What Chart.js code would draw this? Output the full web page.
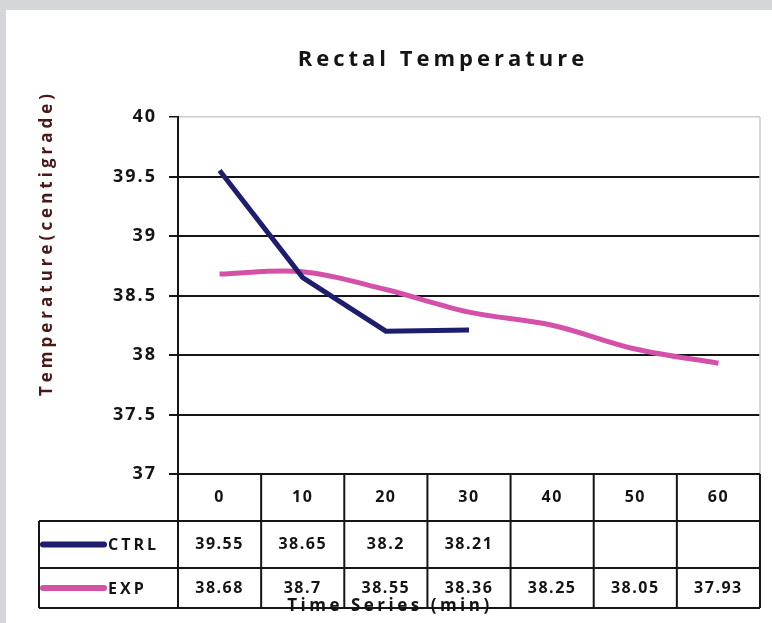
<!DOCTYPE html>
<html>
<head>
<meta charset="utf-8">
<title>Rectal Temperature</title>
<script src="https://cdn.jsdelivr.net/npm/chart.js@4.4.0/dist/chart.umd.min.js"></script>
<style>
  html, body { margin: 0; padding: 0; background: #d5d6d9; }
  #wrap { position: absolute; left: 6px; top: 10px; width: 766px; height: 613px; background: #fff; }
</style>
</head>
<body>
<div id="wrap"><canvas id="tempChart" width="766" height="613"></canvas></div>
<script>
// Chart data
const timeLabels = ['0', '10', '20', '30', '40', '50', '60'];
const ctrlValues = [39.55, 38.65, 38.2, 38.21, null, null, null];
const expValues = [38.68, 38.7, 38.55, 38.36, 38.25, 38.05, 37.93];
const seriesNames = ['CTRL', 'EXP'];
const yTickValues = [37, 37.5, 38, 38.5, 39, 39.5, 40];

// Colours
const colors = {
  ctrl: '#1f1d6e',
  exp: '#d451a9',
  text: '#141414',
  grid: '#151515',
  frame: '#c9ccd3',
  axisTitle: '#4a1818'
};

const FONT = "'Open Sans', 'DejaVu Sans', sans-serif";

// Text + data table drawn under the plot
const dataTablePlugin = {
  id: 'dataTable',
  beforeDraw(chart) {
    chart.ctx.letterSpacing = '2px';
  },
  afterDraw(chart) {
    const ctx = chart.ctx;
    const area = chart.chartArea;
    const xScale = chart.scales.x;
    const colW = (area.right - area.left) / timeLabels.length;
    const tableLeft = 33;
    const rowLines = [area.bottom, 511, 558, 598];

    ctx.save();

    // plot frame (right, light grey)
    ctx.strokeStyle = colors.frame;
    ctx.lineWidth = 1.5;
    ctx.beginPath();
    ctx.moveTo(area.right, area.top);
    ctx.lineTo(area.right, area.bottom);
    ctx.stroke();

    // table grid
    ctx.strokeStyle = colors.grid;
    ctx.lineWidth = 2;
    ctx.beginPath();
    ctx.moveTo(area.left, rowLines[0]);
    ctx.lineTo(area.right, rowLines[0]);
    for (let r = 1; r < rowLines.length; r++) {
      ctx.moveTo(tableLeft, rowLines[r]);
      ctx.lineTo(area.right, rowLines[r]);
    }
    for (let i = 0; i <= timeLabels.length; i++) {
      const xPos = area.left + i * colW;
      ctx.moveTo(xPos, rowLines[0]);
      ctx.lineTo(xPos, rowLines[3]);
    }
    ctx.moveTo(tableLeft, rowLines[1]);
    ctx.lineTo(tableLeft, rowLines[3]);
    ctx.stroke();

    // table text
    ctx.fillStyle = colors.text;
    ctx.font = 'bold 16px ' + FONT;
    ctx.letterSpacing = '1.5px';
    ctx.textAlign = 'center';
    ctx.textBaseline = 'middle';
    const rowMid = r => (rowLines[r] + rowLines[r + 1]) / 2;
    timeLabels.forEach((label, i) => {
      const cx = xScale.getPixelForValue(i);
      ctx.fillText(label, cx, rowMid(0));
      if (ctrlValues[i] !== null) ctx.fillText(String(ctrlValues[i]), cx, rowMid(1));
      if (expValues[i] !== null) ctx.fillText(String(expValues[i]), cx, rowMid(2));
    });

    // legend keys in table
    const keyColors = [colors.ctrl, colors.exp];
    seriesNames.forEach((name, s) => {
      const y = rowMid(s + 1);
      ctx.strokeStyle = keyColors[s];
      ctx.lineWidth = 6;
      ctx.lineCap = 'round';
      ctx.beginPath();
      ctx.moveTo(37, y);
      ctx.lineTo(98, y);
      ctx.stroke();
      ctx.textAlign = 'left';
      ctx.fillStyle = colors.text;
      ctx.letterSpacing = '3px';
      ctx.fillText(name, 102, y + 1);
    });

    // chart title
    ctx.textAlign = 'center';
    ctx.font = 'bold 22px ' + FONT;
    ctx.letterSpacing = '4px';
    ctx.fillText('Rectal Temperature', 437, 50);

    // x axis title
    ctx.font = 'bold 17px ' + FONT;
    ctx.letterSpacing = '3.5px';
    ctx.fillText('Time Series (min)', 384, 596);

    // y axis title
    ctx.save();
    ctx.translate(41, 233);
    ctx.rotate(-Math.PI / 2);
    ctx.fillStyle = colors.axisTitle;
    ctx.font = 'bold 17px ' + FONT;
    ctx.letterSpacing = '4px';
    ctx.fillText('Temperature(centigrade)', 0, 0);
    ctx.restore();

    ctx.restore();
  }
};

const ctx = document.getElementById('tempChart').getContext('2d');

const tempChart = new Chart(ctx, {
  type: 'line',
  data: {
    labels: timeLabels,
    datasets: [
      {
        label: seriesNames[0],
        data: ctrlValues,
        borderColor: colors.ctrl,
        borderWidth: 5,
        pointRadius: 0,
        tension: 0,
        spanGaps: false
      },
      {
        label: seriesNames[1],
        data: expValues,
        borderColor: colors.exp,
        borderWidth: 5,
        pointRadius: 0,
        tension: 0.35
      }
    ]
  },
  options: {
    responsive: false,
    animation: false,
    layout: {
      padding: { left: 0, right: 12, top: 107, bottom: 149 }
    },
    scales: {
      x: {
        display: false,
        offset: true
      },
      y: {
        min: 37,
        max: 40,
        afterBuildTicks: scale => {
          scale.ticks = yTickValues.map(v => ({ value: v }));
        },
        afterFit: scale => {
          scale.width = 172;
        },
        border: { color: colors.grid, width: 2 },
        grid: {
          color: c => (c.tick && c.tick.value === 40 ? colors.frame : colors.grid),
          lineWidth: c => (c.tick && c.tick.value === 40 ? 1.5 : 2),
          tickColor: colors.grid,
          tickLength: 9
        },
        ticks: {
          color: colors.text,
          padding: 12,
          callback: v => String(v),
          font: { family: FONT, size: 18, weight: 'bold' }
        }
      }
    },
    plugins: {
      legend: { display: false },
      title: { display: false },
      tooltip: { enabled: false }
    }
  },
  plugins: [dataTablePlugin]
});
</script>
</body>
</html>
